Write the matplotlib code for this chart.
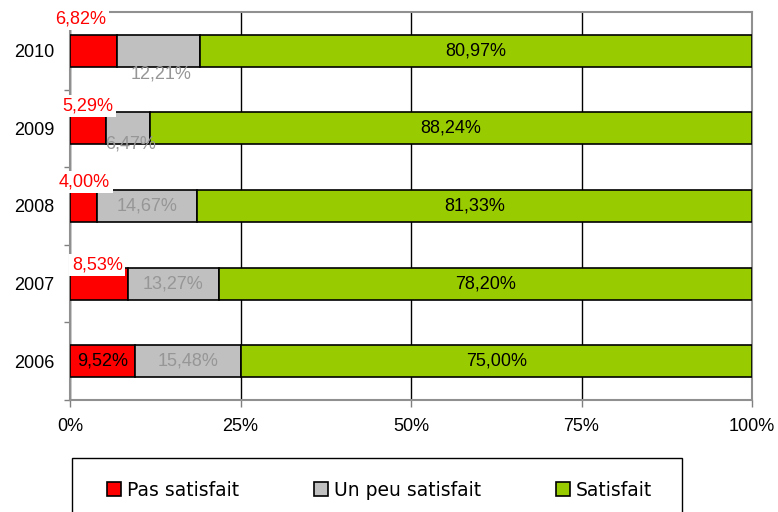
import matplotlib
matplotlib.use("Agg")
import matplotlib.pyplot as plt
from matplotlib.patches import Rectangle, Patch

years = ['2006', '2007', '2008', '2009', '2010']
pas_satisfait = [9.52, 8.53, 4.00, 5.29, 6.82]
un_peu = [15.48, 13.27, 14.67, 6.47, 12.21]
satisfait = [75.00, 78.20, 81.33, 88.24, 80.97]
series_names = ['Pas satisfait', 'Un peu satisfait', 'Satisfait']
x_ticks = [0, 25, 50, 75, 100]
x_tick_labels = ['0%', '25%', '50%', '75%', '100%']

# where the labels were dragged to in the original (x in %, y offset from bar centre)
red_label_pos = [None, (4.0, 0.24), (2.1, 0.31), (2.6, 0.29), (1.6, 0.41)]
gray_label_pos = [None, None, None, (8.9, -0.20), (13.3, -0.30)]

red = '#FF0000'
gray = '#C0C0C0'
green = '#99CC00'
label_gray = '#969696'
fs = 13


def fmt(v):
    return ('%.2f%%' % v).replace('.', ',')


plt.rcParams['font.family'] = ['Liberation Sans', 'DejaVu Sans']

fig = plt.figure(figsize=(7.78, 5.12), dpi=100)
ax = fig.add_axes([70 / 778, 112 / 512, 682 / 778, 388 / 512])

y = list(range(len(years)))
h = 0.41
left2 = pas_satisfait
left3 = [a + b for a, b in zip(pas_satisfait, un_peu)]
ax.barh(y, pas_satisfait, height=h, color=red, edgecolor='black', linewidth=1.2, zorder=3)
ax.barh(y, un_peu, left=left2, height=h, color=gray, edgecolor='black', linewidth=1.2, zorder=3)
ax.barh(y, satisfait, left=left3, height=h, color=green, edgecolor='black', linewidth=1.2, zorder=3)

for i in y:
    # red labels
    if red_label_pos[i] is None:
        ax.text(pas_satisfait[i] / 2, i, fmt(pas_satisfait[i]), ha='center', va='center',
                fontsize=fs, color='black', zorder=5)
    else:
        px, dy = red_label_pos[i]
        ax.text(px, i + dy, fmt(pas_satisfait[i]), ha='center', va='center', fontsize=fs,
                color=red, zorder=5, clip_on=False,
                bbox=dict(facecolor='white', edgecolor='none', pad=2))
    # gray labels
    if gray_label_pos[i] is None:
        ax.text(left2[i] + un_peu[i] / 2, i, fmt(un_peu[i]), ha='center', va='center',
                fontsize=fs, color=label_gray, zorder=5)
    else:
        px, dy = gray_label_pos[i]
        ax.text(px, i + dy, fmt(un_peu[i]), ha='center', va='center', fontsize=fs,
                color=label_gray, zorder=5)
    # green labels
    ax.text(left3[i] + satisfait[i] / 2, i, fmt(satisfait[i]), ha='center', va='center',
            fontsize=fs, color='black', zorder=5)

ax.set_xlim(0, 100)
ax.set_ylim(-0.5, len(years) - 0.5)
ax.set_xticks(x_ticks)
ax.set_xticklabels(x_tick_labels, fontsize=fs)
ax.set_yticks(y)
ax.set_yticklabels(years, fontsize=fs)
ax.tick_params(axis='y', length=0, pad=11)
ax.set_yticks([i + 0.5 for i in range(-1, len(years))], minor=True)
ax.tick_params(axis='y', which='minor', length=4, color='#808080', width=1)
ax.tick_params(axis='x', length=5, color='#808080', width=1, pad=8)
ax.grid(axis='x', color='black', linewidth=1, zorder=0)
for s in ax.spines.values():
    s.set_color('#909090')
    s.set_linewidth(1.5)

# legend box
fig.patches.append(Rectangle((72 / 778, -0.1), 610 / 778, 0.1 + 54 / 512,
                             transform=fig.transFigure, facecolor='white',
                             edgecolor='black', linewidth=1))
handles = [Patch(facecolor=c, edgecolor='black', linewidth=1.2) for c in (red, gray, green)]
fig.legend(handles, series_names, loc='center left', ncol=3,
           bbox_to_anchor=(107 / 778, 22 / 512, 545 / 778, 0), mode='expand',
           frameon=False, handlelength=0.75, handleheight=0.75, handletextpad=0.3,
           borderpad=0, borderaxespad=0,
           prop={'family': 'DejaVu Sans', 'size': 13.5})

fig.savefig('out.png', dpi=100)
